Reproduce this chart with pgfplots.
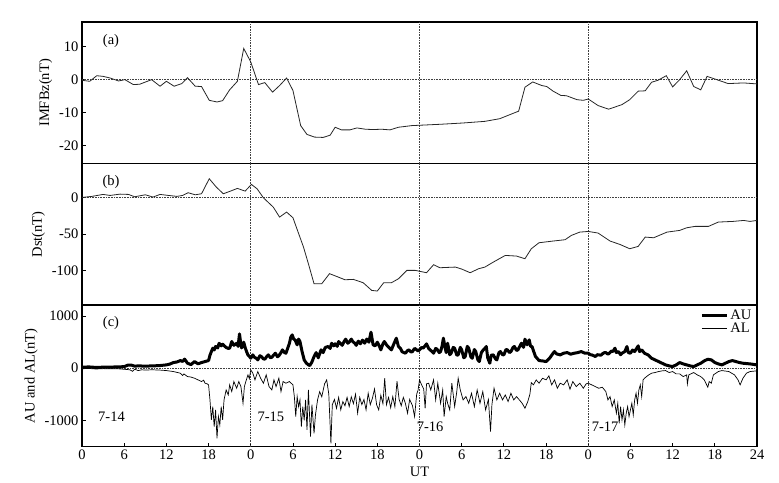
\documentclass[border=0pt]{standalone}
\usepackage{fontspec}
\setmainfont{Liberation Serif}
\usepackage{pgfplots}
\pgfplotsset{compat=1.18}

\newcommand\fs{\fontsize{14.5}{17}\selectfont}

\pgfplotsset{
  panel/.style={
    scale only axis, width=675pt, height=141.5pt,
    xmin=0, xmax=96,
    axis line style={line width=1.4pt},
    tick align=inside, tick pos=left,
    major tick length=4pt,
    tick style={line width=0.8pt, black},
    ticklabel style={font=\fs},
    label style={font=\fs},
  },
}
\tikzset{guide/.style={densely dotted, black!75, line width=0.6pt}}

\begin{document}
\begin{tikzpicture}[x=1pt,y=1pt]
\path (0,0) rectangle (779,482);

% (a) IMF Bz
\begin{axis}[panel, at={(82pt,318.3pt)}, anchor=south west,
  ymin=-25.6, ymax=17.5, ytick={-20,-10,0,10}, yticklabels={-20,-10,0,10},
  xtick=\empty, ylabel={IMFBz(nT)}]
\draw[guide] (axis cs:0,0) -- (axis cs:96,0);
\draw[guide] (axis cs:24,-30) -- (axis cs:24,20);
\draw[guide] (axis cs:48,-30) -- (axis cs:48,20);
\draw[guide] (axis cs:72,-30) -- (axis cs:72,20);
\addplot[black!85, line width=0.8pt] coordinates {
(0,-0.2)(1.1,-0.5)(2.1,1.2)(3.0,1.0)(4.0,0.5)(5.2,-0.4)(6.1,0)(7.3,-1.5)(8.2,-1.4)
(9.9,0)(11.1,-2)(12.0,-0.5)(13.1,-2)(14.2,-1.2)(15.0,0.6)(16.1,-2)(17.0,-2.1)
(18.1,-6.3)(19.2,-6.8)(20.0,-6.4)(21.0,-3.1)(22.1,-0.5)(23.0,9.5)(24.0,5.4)
(25.1,-1.5)(26.0,-0.9)(27.1,-3.8)(28.1,-1.8)(29.1,0.5)(30.0,-3.3)(31.1,-14)
(32.0,-16.7)(33.1,-17.5)(34.3,-17.6)(35.3,-16.9)(36.0,-14.5)(36.9,-15.3)
(38.1,-15.3)(39.1,-14.7)(40.3,-15.1)(41.4,-15.2)(42.6,-15.1)(43.8,-15.3)
(45.0,-14.5)(46.9,-14.0)(50.9,-13.6)(54.2,-13.2)(57.3,-12.7)(59.4,-11.9)
(62.1,-9.6)(63.0,-2.3)(64.1,-0.7)(65.4,-1.8)(66.1,-2.1)(67.0,-3.5)(68.1,-4.8)
(68.9,-4.9)(70.4,-6.1)(71.3,-6.3)(72.0,-5.9)(73.4,-7.9)(74.9,-9.0)(76.8,-7.6)
(77.9,-6.1)(79.1,-3.5)(80.1,-3.4)(81.0,-0.8)(81.9,-0.2)(83.1,1.2)(84.0,-2.2)
(85.0,0)(86.0,2.7)(87.0,-2.1)(88.0,-3.1)(88.9,1.0)(90.0,0.2)(91.9,-1.2)
(94.1,-1.0)(96.0,-1.3)};
\node[font=\fs] at (axis description cs:0.043,0.867) {(a)};
\end{axis}

% (b) Dst
\begin{axis}[panel, at={(82pt,176.8pt)}, anchor=south west,
  ymin=-147, ymax=46, ytick={-100,-50,0}, yticklabels={-100,-50,0},
  xtick=\empty, ylabel={Dst(nT)}]
\draw[guide] (axis cs:0,0) -- (axis cs:96,0);
\draw[guide] (axis cs:24,-200) -- (axis cs:24,60);
\draw[guide] (axis cs:48,-200) -- (axis cs:48,60);
\draw[guide] (axis cs:72,-200) -- (axis cs:72,60);
\addplot[black!85, line width=0.8pt] coordinates {
(0,0)(1.4,1.4)(3.0,4.1)(4.0,2.7)(5.4,4.5)(6.6,4.1)(7.5,0.9)(9.0,3.6)(10.1,0.5)
(11.1,4.1)(12.3,2.7)(13.5,1.4)(14.3,2.7)(15.1,6.4)(16.1,3.6)(17.0,5)(18.1,25.5)
(19.1,14.1)(20.1,5)(21.0,8.2)(22.1,12.3)(23.2,8.6)(24.1,17.7)(24.9,11.8)
(25.8,-0.5)(27.2,-13.2)(28.1,-26.8)(29.1,-20)(30.0,-27.7)(31.5,-67.7)
(32.2,-90.5)(33.0,-117.7)(34.1,-117.7)(35.2,-104)(36.2,-107.7)(37.4,-112.3)
(38.6,-111.8)(40.0,-116.4)(41.2,-126.8)(42.0,-127.7)(42.9,-116.4)(44.0,-116.4)
(45.0,-111)(46.2,-99.5)(47.4,-99.5)(49.0,-102.7)(50.0,-91.8)(50.9,-95.9)
(53.1,-95)(54.0,-97.7)(55.2,-102.7)(56.4,-97.3)(57.3,-95)(58.5,-88.2)
(60.2,-79.1)(61.8,-80)(63.0,-83.6)(63.9,-70)(65.0,-61.8)(67.0,-59.5)
(68.7,-57.7)(69.6,-51.8)(70.8,-47.3)(72.0,-46.4)(73.4,-48.6)(75.1,-59.5)
(76.5,-64.1)(77.9,-70)(79.1,-66.8)(80.1,-54.1)(81.3,-55)(83.2,-47.3)(85.0,-45)
(86.0,-41.4)(87.2,-39.5)(89.1,-39.5)(90.5,-33.6)(92.6,-32.7)(94.1,-31.4)
(95.0,-32.7)(96.0,-31.4)};
\node[font=\fs] at (axis description cs:0.043,0.873) {(b)};
\end{axis}

% (c) AU and AL
\begin{axis}[panel, at={(82pt,35.3pt)}, anchor=south west,
  ymin=-1508, ymax=1211, ytick={-1000,0,1000}, yticklabels={-1000,0,1000},
  xtick={0,6,...,96},
  xticklabels={0,6,12,18,0,6,12,18,0,6,12,18,0,6,12,18,24},
  xlabel={UT}, xlabel style={yshift=0pt}, ylabel={AU and AL(nT)},
  legend style={draw=none, fill=none, at={(0.995,0.985)}, anchor=north east,
    font=\fs, row sep=-1.5pt, inner sep=0pt},
  legend cell align=left,
  legend image code/.code={\draw[#1] (0pt,0pt) -- (25pt,0pt);}]
\draw[guide] (axis cs:0,0) -- (axis cs:96,0);
\draw[guide] (axis cs:24,-2000) -- (axis cs:24,2000);
\draw[guide] (axis cs:48,-2000) -- (axis cs:48,2000);
\draw[guide] (axis cs:72,-2000) -- (axis cs:72,2000);
\addplot[black, line width=3pt, line join=round] coordinates {
(0,20)(1,25)(2,15)(3,20)(4,22)(5,25)(6,30)(6.5,58)(7,60)(7.5,40)(8,45)(9,40)
(10,45)(11,50)(12,64)(12.5,80)(13,109)(13.5,120)(14,147)(14.3,130)(14.6,175)
(15,96)(15.5,70)(16,128)(16.5,85)(17,109)(17.5,128)(18,147)(18.2,250)(18.4,320)
(18.6,385)(18.8,350)(19,417)(19.3,390)(19.5,480)(19.8,430)(20,461)(20.3,420)
(20.5,400)(20.8,380)(21,385)(21.3,513)(21.6,440)(22,480)(22.2,420)(22.4,660)
(22.6,450)(22.7,390)(23,500)(23.2,400)(23.4,320)(23.6,256)(23.8,230)(24,192)
(24.3,256)(24.5,212)(24.8,190)(25,160)(25.3,240)(25.5,224)(25.8,180)(26,173)
(26.3,230)(26.5,256)(26.8,200)(27,212)(27.3,260)(27.5,288)(27.8,220)(28,240)
(28.3,300)(28.5,353)(28.8,300)(29,288)(29.3,400)(29.5,480)(29.7,600)(29.9,640)
(30.1,560)(30.3,545)(30.6,449)(30.8,560)(31,513)(31.3,320)(31.6,160)(31.9,100)
(32.2,64)(32.4,51)(32.7,120)(33,224)(33.3,300)(33.6,200)(34,353)(34.3,300)
(34.6,400)(35,417)(35.3,380)(35.5,480)(35.8,430)(36,470)(36.3,420)(36.5,513)
(36.8,470)(37,440)(37.3,520)(37.5,558)(37.8,480)(38,500)(38.3,560)(38.5,513)
(38.8,480)(39,440)(39.3,520)(39.6,470)(39.9,540)(40.2,480)(40.5,560)(40.8,500)
(41.1,692)(41.4,450)(41.7,430)(42,500)(42.3,420)(42.5,353)(42.8,470)(43,513)
(43.3,450)(43.5,420)(43.8,380)(44,353)(44.3,450)(44.7,577)(45,420)(45.3,380)
(45.5,320)(45.8,300)(46,288)(46.3,340)(46.5,353)(46.8,310)(47,320)(47.3,380)
(47.5,365)(47.8,330)(48,353)(48.3,400)(48.5,385)(48.8,430)(49,468)(49.3,380)
(49.5,353)(49.8,320)(50,288)(50.3,380)(50.5,365)(50.8,300)(51,320)(51.2,420)
(51.4,577)(51.6,420)(51.8,300)(52,480)(52.3,260)(52.5,288)(52.8,400)(53,385)
(53.3,250)(53.5,256)(53.8,400)(54,353)(54.3,200)(54.5,224)(54.8,420)(55,385)
(55.3,220)(55.5,192)(55.8,360)(56,320)(56.3,160)(56.5,128)(56.8,300)(57,340)
(57.3,380)(57.5,417)(57.7,200)(58,96)(58.2,250)(58.5,256)(58.8,180)(59,160)
(59.3,300)(59.5,320)(59.8,260)(60,256)(60.3,360)(60.5,353)(60.8,300)(61,320)
(61.3,400)(61.5,417)(61.8,340)(62,353)(62.3,430)(62.5,480)(62.8,400)(63,558)
(63.3,450)(63.6,545)(63.8,420)(64,417)(64.3,300)(64.5,224)(64.8,180)(65,147)
(65.5,140)(66,128)(66.5,192)(67,288)(67.2,320)(67.5,275)(68,256)(68.5,288)
(69,301)(69.5,270)(70,288)(70.5,300)(71,320)(71.5,290)(72,288)(72.3,260)
(72.5,256)(72.8,240)(73,224)(73.3,260)(73.5,256)(73.8,250)(74,275)(74.3,300)
(74.5,301)(74.8,270)(75,288)(75.3,330)(75.5,320)(75.8,385)(76,300)(76.3,320)
(76.6,260)(76.8,288)(77.2,320)(77.5,417)(77.7,300)(78,288)(78.3,350)(78.6,320)
(79.1,429)(79.3,320)(79.6,353)(80,288)(80.5,256)(81,192)(81.5,160)(82,128)
(82.5,96)(83,64)(83.5,45)(84,32)(84.5,64)(85,109)(85.5,83)(86,64)(86.5,45)
(87,32)(87.5,64)(88,96)(88.5,141)(89,173)(89.5,160)(90,109)(90.5,83)(91,64)
(91.5,96)(92,128)(92.5,147)(93,128)(93.5,109)(94,96)(95,83)(96,64)};
\addlegendentry{AU}
\addplot[black, line width=0.7pt] coordinates {
(0,-10)(1,-5)(2,-15)(3,-8)(4,-12)(5,-10)(6,-20)(6.8,-30)(7.2,-60)(7.5,-20)
(8,-45)(8.5,-30)(9,-35)(10,-30)(11,-35)(12,-45)(13,-64)(13.5,-80)(14,-96)
(14.3,-140)(14.5,-110)(15,-160)(15.5,-170)(16,-192)(16.5,-224)(17,-256)
(17.3,-230)(17.5,-288)(17.8,-300)(18,-320)(18.2,-609)(18.4,-994)(18.6,-737)
(18.8,-1122)(19,-801)(19.2,-1346)(19.4,-929)(19.6,-1090)(19.8,-737)(20,-994)
(20.2,-609)(20.5,-417)(20.8,-513)(21,-320)(21.3,-449)(21.6,-256)(22,-385)
(22.3,-256)(22.6,-353)(22.9,-673)(23.1,-350)(23.3,-256)(23.6,-128)(23.8,-200)
(24,-32)(24.3,-96)(24.6,-224)(25,-64)(25.4,-192)(25.8,-288)(26.2,-128)
(26.6,-353)(27,-417)(27.3,-224)(27.6,-353)(28,-192)(28.3,-449)(28.6,-256)
(29,-288)(29.5,-256)(30,-320)(30.2,-545)(30.4,-929)(30.6,-545)(30.8,-737)
(31,-609)(31.2,-1122)(31.4,-737)(31.6,-1000)(31.8,-609)(32,-1186)(32.2,-417)
(32.5,-1314)(32.7,-700)(33,-1250)(33.2,-900)(33.5,-609)(33.8,-450)(34.1,-550)
(34.5,-300)(34.8,-224)(35.1,-500)(35.4,-1442)(35.6,-700)(35.9,-600)(36.2,-770)
(36.5,-560)(36.8,-800)(37.1,-640)(37.4,-720)(37.7,-560)(38,-737)(38.3,-550)
(38.6,-680)(38.9,-500)(39.2,-865)(39.5,-560)(39.8,-700)(40.1,-600)(40.4,-800)
(40.7,-480)(41,-700)(41.3,-580)(41.6,-400)(41.9,-700)(42.2,-801)(42.5,-520)
(42.8,-680)(43.05,-192)(43.3,-700)(43.6,-560)(43.9,-760)(44.2,-545)(44.5,-740)
(44.8,-250)(45.1,-600)(45.4,-720)(45.7,-560)(46,-680)(46.3,-865)(46.6,-600)
(47,-720)(47.3,-929)(47.6,-500)(47.8,-420)(48,-224)(48.3,-320)(48.6,-400)
(48.8,-769)(49.0,-300)(49.3,-288)(49.6,-417)(50,-224)(50.3,-609)(50.6,-288)
(51,-673)(51.3,-417)(51.5,-929)(51.8,-545)(52,-673)(52.3,-801)(52.6,-288)
(53,-737)(53.3,-450)(53.5,-192)(53.8,-417)(54.2,-609)(54.6,-545)(55,-673)
(55.4,-480)(55.8,-737)(56.2,-417)(56.6,-673)(57,-449)(57.4,-801)(57.8,-600)
(58.1,-1218)(58.3,-700)(58.6,-385)(59,-609)(59.4,-480)(59.8,-609)(60.2,-513)
(60.6,-641)(61,-480)(61.4,-609)(61.8,-545)(62.2,-609)(62.6,-673)(63,-769)
(63.4,-641)(63.7,-500)(63.9,-276)(64.2,-320)(64.6,-224)(65,-288)(65.5,-192)
(66,-224)(66.4,-147)(66.8,-320)(67.2,-224)(67.6,-385)(68,-288)(68.5,-320)
(69,-224)(69.4,-404)(69.8,-256)(70.3,-353)(70.8,-288)(71.3,-385)(71.7,-300)
(72,-288)(72.5,-320)(73,-353)(73.5,-385)(74,-365)(74.5,-449)(74.8,-609)
(75.1,-545)(75.4,-737)(75.7,-609)(76,-865)(76.2,-673)(76.4,-1058)(76.6,-737)
(76.8,-994)(77.0,-801)(77.2,-1090)(77.4,-865)(77.6,-737)(77.8,-929)(78,-801)
(78.2,-673)(78.4,-897)(78.6,-609)(78.8,-480)(79,-673)(79.2,-417)(79.4,-320)
(79.6,-545)(79.8,-224)(80,-192)(80.3,-160)(80.6,-128)(81,-96)(81.5,-83)(82,-64)
(82.5,-51)(83,-45)(83.5,-83)(84,-64)(84.5,-109)(85,-109)(85.5,-160)(86,-128)
(86.1,-301)(86.3,-128)(87,-83)(87.5,-128)(88,-160)(88.5,-224)(89,-365)
(89.2,-256)(89.5,-288)(89.8,-128)(90.5,-64)(91,-45)(92,-64)(92.8,-128)
(93.3,-224)(93.6,-320)(94,-192)(94.5,-96)(95,-64)(96,-50)};
\addlegendentry{AL}
\node[font=\fs] at (axis description cs:0.043,0.876) {(c)};
\node[font=\fs] at (axis cs:4.2,-937) {7-14};
\node[font=\fs] at (axis cs:26.85,-930) {7-15};
\node[font=\fs] at (axis cs:49.5,-1123) {7-16};
\node[font=\fs] at (axis cs:74.4,-1123) {7-17};
\end{axis}
\end{tikzpicture}
\end{document}
